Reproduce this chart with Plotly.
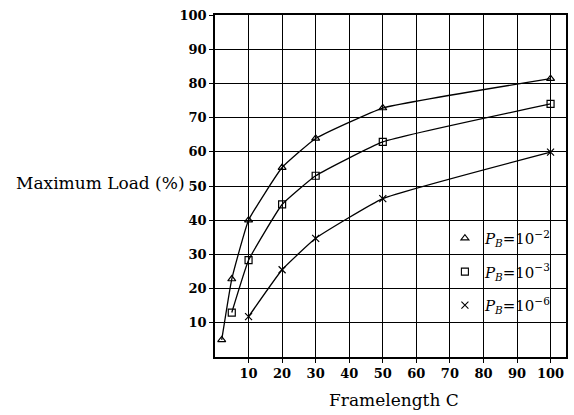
import plotly.graph_objects as go

# Data
c_pb2 = [2, 5, 10, 20, 30, 50, 100]
load_pb2 = [5, 22.8, 40, 55.4, 63.9, 72.8, 81.4]

c_pb3 = [5, 10, 20, 30, 50, 100]
load_pb3 = [13, 28.3, 44.6, 53, 62.9, 74]

c_pb6 = [10, 20, 30, 50, 100]
load_pb6 = [11.8, 25.5, 34.7, 46.3, 59.9]

series_names = [
    "<i>P</i><sub><i>B</i></sub>=10<sup>−2</sup>",
    "<i>P</i><sub><i>B</i></sub>=10<sup>−3</sup>",
    "<i>P</i><sub><i>B</i></sub>=10<sup>−6</sup>",
]
symbols = ["triangle-up-open", "square-open", "x-thin-open"]

tick_vals = [10, 20, 30, 40, 50, 60, 70, 80, 90, 100]
tick_text = [str(v) for v in tick_vals]

SERIF = "DejaVu Serif, Liberation Serif, serif"

fig = go.Figure()
for xs, ys, sym in zip([c_pb2, c_pb3, c_pb6], [load_pb2, load_pb3, load_pb6], symbols):
    fig.add_trace(go.Scatter(
        x=xs, y=ys, mode="lines+markers",
        line=dict(color="black", width=1.3, shape="spline", smoothing=0.35),
        marker=dict(symbol=sym, size=7, color="black", line=dict(color="black", width=1.2)),
        showlegend=False,
    ))

# legend-only entries (markers only, as in the reference)
for i, (name, sym) in enumerate(zip(series_names, symbols)):
    fig.add_trace(go.Scatter(
        x=[None], y=[None], mode="markers", name=name,
        marker=dict(symbol=sym, size=7, color="black", line=dict(color="black", width=1.1)),
        legendgroup=f"g{i}",
    ))

axis_common = dict(
    showgrid=True, gridcolor="black", gridwidth=1.2,
    showline=True, linecolor="black", linewidth=1.5, mirror=True,
    zeroline=False,
    ticks="outside", ticklen=4, tickcolor="black", tickwidth=1,
    tickfont=dict(family=SERIF, size=13, color="black"),
    tickvals=tick_vals, ticktext=[f"<b>{t}</b>" for t in tick_text],
)

fig.update_layout(
    width=574, height=415,
    margin=dict(l=215, r=6, t=15, b=58),
    paper_bgcolor="white", plot_bgcolor="white",
    xaxis=dict(range=[0, 104.6], **axis_common),
    yaxis=dict(range=[0, 100], **axis_common),
    font=dict(family=SERIF, color="black"),
    legend=dict(
        x=0.655, y=0.395, xanchor="left", yanchor="top",
        bgcolor="rgba(0,0,0,0)", borderwidth=0,
        font=dict(family=SERIF, size=15, color="black"),
        tracegroupgap=11, itemwidth=30,
    ),
    annotations=[
        dict(text="Maximum Load (%)", xref="paper", yref="paper",
             x=-0.08, y=0.51, xanchor="right", yanchor="middle",
             showarrow=False, font=dict(family=SERIF, size=17, color="black")),
        dict(text="Framelength C", xref="paper", yref="paper",
             x=0.51, y=-0.126, xanchor="center", yanchor="middle",
             showarrow=False, font=dict(family=SERIF, size=17, color="black")),
    ],
)

fig.write_html("out.html")
